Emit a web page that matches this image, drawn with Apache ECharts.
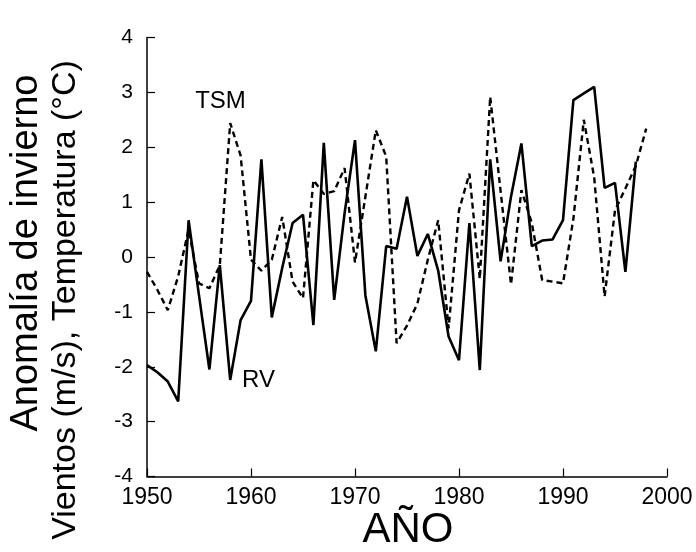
<!DOCTYPE html>
<html>
<head>
<meta charset="utf-8">
<script src="https://cdn.jsdelivr.net/npm/echarts@6/dist/echarts.min.js"></script>
<style>
  html, body { margin: 0; padding: 0; background: #ffffff; }
  #chart { width: 696px; height: 552px; }
</style>
</head>
<body>
<div id="chart"></div>
<script>
// Winter anomalies: wind (RV, solid) and sea surface temperature (TSM, dashed)
const rvYears = [1950, 1951, 1952, 1953, 1954, 1955, 1956, 1957, 1958, 1959,
  1960, 1961, 1962, 1963, 1964, 1965, 1966, 1967, 1968, 1969,
  1970, 1971, 1972, 1973, 1974, 1975, 1976, 1977, 1978, 1979,
  1980, 1981, 1982, 1983, 1984, 1985, 1986, 1987, 1988, 1989,
  1990, 1991, 1992, 1993, 1994, 1995, 1996, 1997];
const rvValues = [-1.97, -2.1, -2.27, -2.63, 0.67, -0.7, -2.05, -0.15, -2.24, -1.15,
  -0.8, 1.78, -1.1, -0.2, 0.62, 0.77, -1.24, 2.08, -0.78, 0.8,
  2.13, -0.7, -1.72, 0.2, 0.15, 1.1, 0.02, 0.42, -0.25, -1.45,
  -1.88, 0.62, -2.06, 1.78, -0.08, 1.1, 2.07, 0.2, 0.3, 0.32,
  0.67, 2.86, 2.98, 3.1, 1.26, 1.35, -0.27, 1.74];

const tsmYears = [1950, 1951, 1952, 1953, 1954, 1955, 1956, 1957, 1958, 1959,
  1960, 1961, 1962, 1963, 1964, 1965, 1966, 1967, 1968, 1969,
  1970, 1971, 1972, 1973, 1974, 1975, 1976, 1977, 1978, 1979,
  1980, 1981, 1982, 1983, 1984, 1985, 1986, 1987, 1988, 1989,
  1990, 1991, 1992, 1993, 1994, 1995, 1996, 1997, 1998];
const tsmValues = [-0.27, -0.6, -0.97, -0.35, 0.5, -0.48, -0.57, -0.15, 2.44, 1.85,
  -0.05, -0.25, -0.05, 0.73, -0.45, -0.75, 1.4, 1.15, 1.2, 1.62,
  -0.1, 1.1, 2.31, 1.83, -1.57, -1.25, -0.85, -0.05, 0.67, -1.3,
  0.85, 1.52, -0.4, 2.92, 1.2, -0.5, 1.22, 0.62, -0.42, -0.45,
  -0.48, 0.7, 2.5, 1.45, -0.72, 0.85, 1.25, 1.66, 2.34];

const FONT = '"Liberation Sans", Arial, Helvetica, sans-serif';

const chart = echarts.init(document.getElementById('chart'), null, { renderer: 'canvas' });

const pairs = (xs, ys) => xs.map((x, i) => [x, ys[i]]);

chart.setOption({
  backgroundColor: '#ffffff',
  animation: false,
  grid: { left: 147, right: 29, top: 37.5, bottom: 75.5 },
  xAxis: {
    type: 'value',
    min: 1950,
    max: 2000,
    interval: 10,
    axisLine: { show: true, onZero: false, lineStyle: { color: '#000', width: 1.5 } },
    axisTick: { show: true, inside: true, length: 8, lineStyle: { color: '#000', width: 1.2 } },
    axisLabel: { color: '#000', fontSize: 23, fontFamily: FONT, margin: 10,
      formatter: v => String(v) },
    splitLine: { show: false }
  },
  yAxis: {
    type: 'value',
    min: -4,
    max: 4,
    interval: 1,
    axisLine: { show: true, onZero: false, lineStyle: { color: '#000', width: 1.5 } },
    axisTick: { show: true, inside: true, length: 8, lineStyle: { color: '#000', width: 1.2 } },
    axisLabel: { color: '#000', fontSize: 21, fontFamily: FONT, margin: 14,
      formatter: v => String(v) },
    splitLine: { show: false }
  },
  series: [
    {
      name: 'RV',
      type: 'line',
      data: pairs(rvYears, rvValues),
      symbol: 'none',
      lineStyle: { color: '#000', width: 2.6, type: 'solid' },
      z: 3
    },
    {
      name: 'TSM',
      type: 'line',
      data: pairs(tsmYears, tsmValues),
      symbol: 'none',
      lineStyle: { color: '#000', width: 2.4, type: [6, 4] },
      z: 2
    }
  ],
  graphic: [
    {
      type: 'text', x: 27, y: 253, rotation: Math.PI / 2,
      style: { text: 'Anomalía de invierno', font: '38px ' + FONT, fill: '#000',
        align: 'center', verticalAlign: 'middle', textAlign: 'center', textVerticalAlign: 'middle' }
    },
    {
      type: 'text', x: 66, y: 300, rotation: Math.PI / 2,
      style: { text: 'Vientos (m/s), Temperatura (°C)', font: '34px ' + FONT, fill: '#000',
        align: 'center', verticalAlign: 'middle', textAlign: 'center', textVerticalAlign: 'middle' }
    },
    {
      type: 'text', x: 408, y: 530,
      style: { text: 'AÑO', font: '42px ' + FONT, fill: '#000',
        align: 'center', verticalAlign: 'middle', textAlign: 'center', textVerticalAlign: 'middle' }
    },
    {
      type: 'text', x: 220.5, y: 101,
      style: { text: 'TSM', font: '24px ' + FONT, fill: '#000',
        align: 'center', verticalAlign: 'middle', textAlign: 'center', textVerticalAlign: 'middle' }
    },
    {
      type: 'text', x: 258.5, y: 380,
      style: { text: 'RV', font: '24px ' + FONT, fill: '#000',
        align: 'center', verticalAlign: 'middle', textAlign: 'center', textVerticalAlign: 'middle' }
    }
  ]
});
</script>
</body>
</html>
